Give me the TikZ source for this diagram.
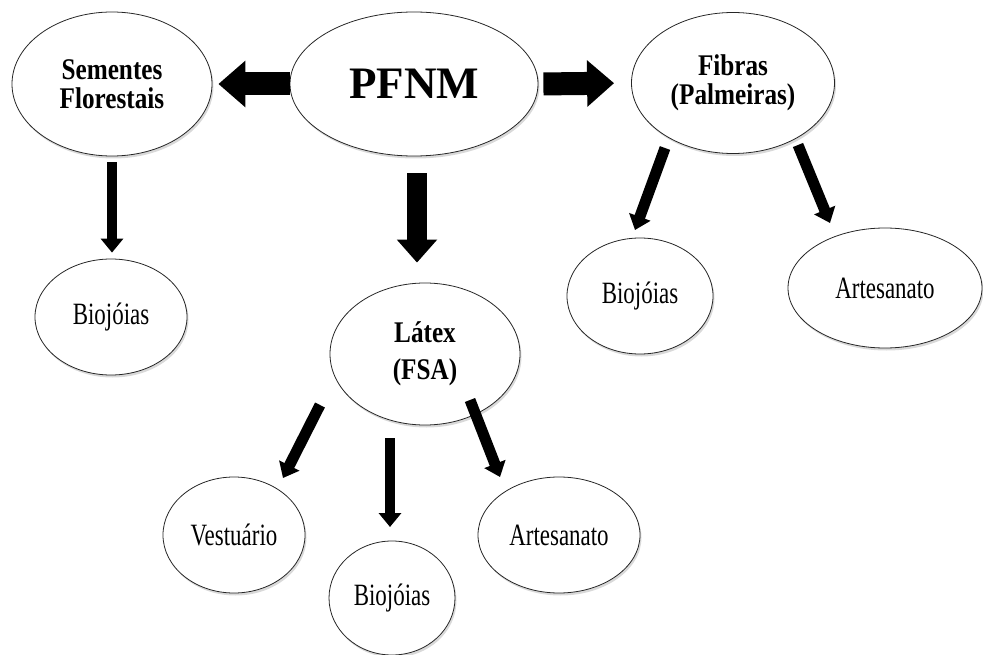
\documentclass[tikz,border=0pt]{standalone}
\usepackage{fontspec}
\setmainfont{Liberation Serif}
\newfontfamily\regf{Liberation Serif}[FakeStretch=0.74]
\newfontfamily\boldf{Liberation Serif}[FakeStretch=0.84]
\usetikzlibrary{arrows.meta,calc,shadows,shapes.geometric}
\begin{document}
\begin{tikzpicture}[x=1pt,y=-1pt,
  oval/.style={ellipse, draw=black!85, line width=0.8pt, fill=white, inner sep=0pt,
    drop shadow={shadow xshift=1.5pt,shadow yshift=-2.5pt,opacity=0.3}},
  lbl/.style={font=\regf\fontsize{31}{33}\selectfont},
  blbl/.style={font=\boldf\bfseries\fontsize{30}{29}\selectfont, align=center},
  harrow/.style={line width=23pt, -{Triangle[width=45pt,length=27pt]}},
  varrow/.style={line width=20pt, -{Triangle[width=39pt,length=23pt]}},
  sarrow/.style={line width=11pt, -{Triangle[width=22pt,length=14pt]}},
]
\useasboundingbox (0,0) rectangle (983,655);
% nodes
\node[oval, blbl, minimum width=200pt, minimum height=144pt] (sem) at (112,84) {Sementes\\Florestais};
\node[oval, minimum width=248pt, minimum height=144pt, font=\bfseries\fontsize{45}{47}\selectfont] (pfnm) at (414,84) {PFNM};
\node[oval, blbl, minimum width=203pt, minimum height=141pt] (fib) at (733,83) {Fibras\\(Palmeiras)};
\node[oval, lbl, minimum width=152pt, minimum height=116pt] (bio1) at (111,317) {Biojóias};
\node[oval, blbl, font=\boldf\bfseries\fontsize{30}{37}\selectfont, minimum width=190pt, minimum height=142pt] (lat) at (425,354) {Látex\\(FSA)};
\node[oval, lbl, minimum width=146pt, minimum height=116pt] (bio2) at (640,296) {Biojóias};
\node[oval, lbl, minimum width=194pt, minimum height=120pt] (art1) at (885,288) {Artesanato};
\node[oval, lbl, minimum width=142pt, minimum height=116pt] (ves) at (234,535) {Vestuário};
\node[oval, lbl, minimum width=126pt, minimum height=114pt] (bio3) at (392,598) {Biojóias};
\node[oval, lbl, minimum width=162pt, minimum height=116pt] (art2) at (559,535) {Artesanato};
% connectors
\draw[harrow, shorten >=6pt] (pfnm.west) -- (sem.east);
\draw[harrow, shorten <=5pt, shorten >=17pt] (pfnm.east) -- (fib.west);
\draw[sarrow, line width=10pt, shorten <=6pt, shorten >=6pt] (sem.south) -- (sem.south |- bio1.north);
\draw[varrow] ($(pfnm.south)+(3,17)$) -- ($(pfnm.south |- lat.north)+(3,-20)$);
\draw[sarrow] ($(fib.center)+(-68,65)$) -- ($(bio2.center)+(-5,-66)$);
\draw[sarrow] ($(fib.center)+(65,62)$) -- ($(art1.center)+(-55,-65)$);
\draw[sarrow] ($(lat.center)+(-105,51)$) -- ($(ves.center)+(49,-57)$);
\draw[sarrow, line width=10pt] ($(lat.center)+(-35,84)$) -- ($(bio3.center)+(-2,-71)$);
\draw[sarrow] ($(lat.center)+(45,46)$) -- ($(art2.center)+(-59,-58)$);
\end{tikzpicture}
\end{document}
